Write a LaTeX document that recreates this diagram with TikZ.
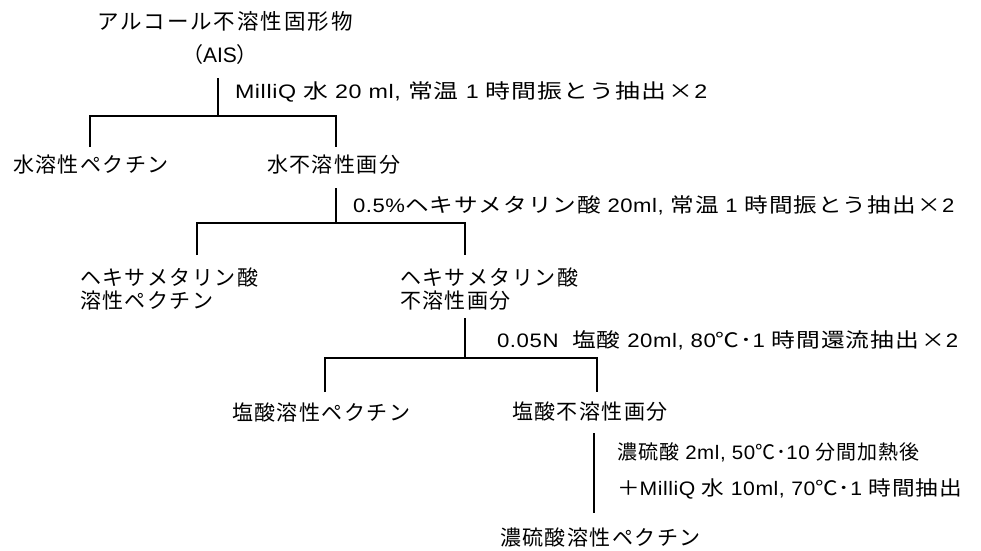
\documentclass[tikz,border=0pt]{standalone}
\usepackage{graphicx}
\usepackage{fontspec}
\setmainfont{Noto Sans CJK JP}
\newfontfamily\titlefont[LetterSpace=9]{Noto Sans CJK JP}
\newfontfamily\labelfont[LetterSpace=7]{Noto Sans CJK JP}
\newfontfamily\condfont[FakeStretch=1.2,LetterSpace=5]{Noto Sans CJK JP}
\newfontfamily\condnarrow[LetterSpace=5]{Noto Sans CJK JP}
\newfontfamily\latinfont[FakeStretch=1.15,LetterSpace=3]{Liberation Sans}
\newfontfamily\latinnarrow[FakeStretch=1.05,LetterSpace=3]{Liberation Sans}
\newfontfamily\plainlatin{Liberation Sans}
\newcommand\ltn[1]{{\latinfont\fontsize{19.5}{22}\selectfont #1}}
\newcommand\ltnn[1]{{\latinnarrow\fontsize{19.5}{22}\selectfont #1}}
\newcommand\tms{\hspace{2pt}×\hspace{1pt}\ltn{2}}
\newcommand\sxw[2]{\scalebox{#1}[1]{#2}}
\begin{document}
\begin{tikzpicture}[x=1pt,y=-1pt,
  txt/.style={inner sep=0pt,outer sep=0pt,font=\fontsize{21}{23}\selectfont},
  ttl/.style={txt,font=\fontsize{21.5}{23}\selectfont\titlefont},
  lbl/.style={txt,anchor=west,align=left,font=\fontsize{21}{23}\selectfont\labelfont},
  cond/.style={txt,anchor=west,font=\fontsize{20}{22}\selectfont\condfont},
  condn/.style={txt,anchor=west,font=\fontsize{20}{22}\selectfont\condnarrow},
  ln/.style={line width=1.1pt,black}]
\useasboundingbox (0,0) rectangle (981,550);

% nodes
\node[ttl] (title) at (225,21) {アルコール不溶性固形物};
\node[txt] (ais) at (220,55) {（{\plainlatin AIS}）};
\node[cond] (c1) at (235,92) {\sxw{1.037}{\ltn{MilliQ }水\ltn{ 20 ml, }常温\ltn{ 1 }時間振とう抽出\tms}};
\node[lbl] (ws) at (13,165) {水溶性ペクチン};
\node[lbl] (wi) at (267,165) {水不溶性画分};
\node[cond] (c2) at (353,205) {\sxw{0.984}{\ltn{0.5\%}ヘキサメタリン酸\ltn{ 20ml, }常温\ltn{ 1 }時間振とう抽出\tms}};
\node[lbl] (hs) at (80,289) {ヘキサメタリン酸\\溶性ペクチン};
\node[lbl] (hi) at (400,289) {ヘキサメタリン酸\\不溶性画分};
\node[cond] (c3) at (497,340) {\sxw{0.99}{\ltn{0.05N\ \ }塩酸\ltn{ 20ml, 80}℃･\ltn{1 }時間還流抽出\tms}};
\node[lbl] (cs) at (232,412) {塩酸溶性ペクチン};
\node[lbl] (ci) at (512,412) {塩酸不溶性画分};
\node[condn] (c4) at (617,452) {濃硫酸\ltnn{ 2ml, 50}℃･\ltnn{10 }分間加熱後};
\node[cond] (c5) at (617,489) {\sxw{0.944}{＋\ltn{MilliQ }水\ltn{ 10ml, 70}℃･\ltn{1 }時間抽出}};
\node[lbl] (ss) at (500,537) {濃硫酸溶性ペクチン};

% connector end points
\coordinate (s1) at (218,78);
\coordinate (j1) at (218,116);
\coordinate (a1) at (90,147);
\coordinate (b1) at (336,147);
\coordinate (s2) at (336,188);
\coordinate (j2) at (336,223);
\coordinate (a2) at (197,255);
\coordinate (b2) at (465,255);
\coordinate (s3) at (465,318);
\coordinate (j3) at (465,358);
\coordinate (a3) at (325,392);
\coordinate (b3) at (597,392);
\coordinate (s4) at (594,433);
\coordinate (e4) at (594,513);

% connectors
\draw[ln] (s1) -- (j1);
\draw[ln] (a1) |- (j1) -| (b1);
\draw[ln] (s2) -- (j2);
\draw[ln] (a2) |- (j2) -| (b2);
\draw[ln] (s3) -- (j3);
\draw[ln] (a3) |- (j3) -| (b3);
\draw[ln] (s4) -- (e4);
\end{tikzpicture}
\end{document}
